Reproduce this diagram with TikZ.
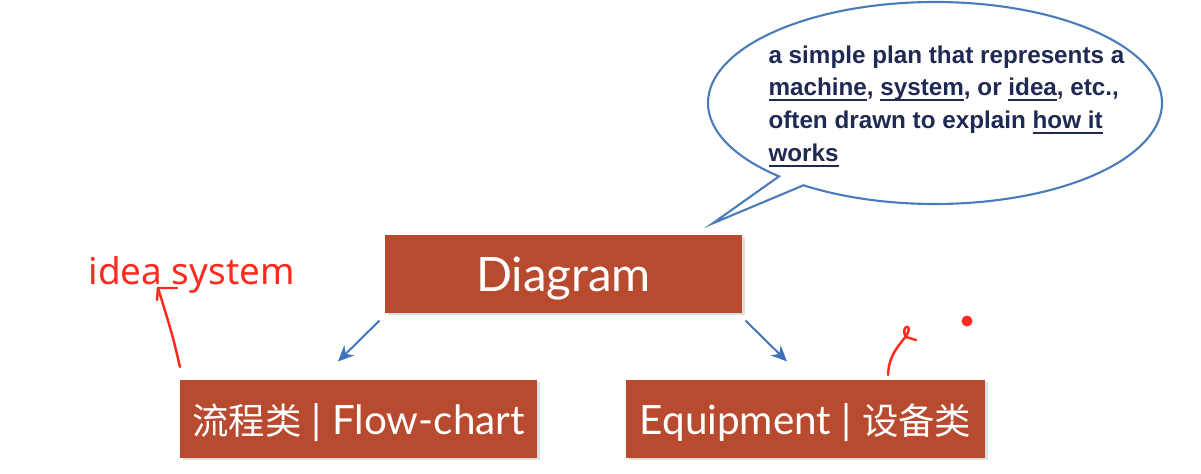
\documentclass[tikz,border=0pt]{standalone}
\usepackage{fontspec}
\usetikzlibrary{positioning, arrows.meta, shapes.callouts, shadows}
\setmainfont{Lato}
\newfontfamily\cjk{Noto Sans CJK SC}[Scale=0.9]
\newfontfamily\notefont{Liberation Sans}
\newfontfamily\penfont{Noto Sans}
\newsavebox{\undlbox}
\newcommand{\undl}[1]{\sbox{\undlbox}{#1}\rlap{\rule[-2.8pt]{\wd\undlbox}{0.8pt}}\usebox{\undlbox}}
\definecolor{boxrust}{HTML}{B84B2F}
\definecolor{linkblue}{HTML}{3E72BA}
\definecolor{bubbleblue}{HTML}{4A7BBB}
\definecolor{textnavy}{HTML}{1F2A52}
\definecolor{inkred}{HTML}{FF2A1E}

\begin{document}
\begin{tikzpicture}[auto, on grid, semithick,
    box/.style={rectangle, fill=boxrust, text=white, minimum width=7.14cm, minimum height=1.56cm,
      inner sep=0pt, text depth=0pt, font=\fontsize{23}{28}\selectfont,
      drop shadow={shadow xshift=0.05cm, shadow yshift=-0.05cm, opacity=0.25}},
    link/.style={linkblue, line width=1.1pt, -{Stealth[length=9pt, width=8pt]}},
    redpen/.style={inkred, line width=1.4pt, line cap=round, line join=round}]
      \useasboundingbox (0,0) rectangle (24.02,-9.48);

      \node[box, font=\fontsize{27}{32}\selectfont] (diagram) at (11.27,-5.48) {Diagram};
      \node[box, below left= 2.9cm and 4.1cm of diagram] (flow) {{\cjk 流程类} | Flow-chart};
      \node[box, minimum width=7.18cm, below right= 2.9cm and 4.84cm of diagram] (equip) {Equipment | {\cjk 设备类}};

      \draw[link] ([shift={(-0.1,-0.14)}]diagram.south west) -- ([shift={(-0.41,0.36)}]flow.north);
      \draw[link] ([shift={(0.06,-0.14)}]diagram.south east) -- ([shift={(-0.37,0.36)}]equip.north);

      \node[ellipse callout, draw=bubbleblue, line width=1.2pt, fill=white,
        minimum width=9.08cm, minimum height=4.04cm, inner sep=0pt, callout pointer arc=8,
        callout absolute pointer={([shift={(-0.6,0.22)}]diagram.north east)},
        above right= 3.42cm and 7.43cm of diagram] (bubble) {};
      \node[anchor=north west, align=left, inner sep=0pt, text=textnavy,
        font=\notefont\bfseries\fontsize{13.8}{18.7}\selectfont]
        (defn) at ([shift={(-3.34,1.16)}]bubble.center)
        {a simple plan that represents a\\
         \undl{machine}, \undl{system}, or \undl{idea}, etc.,\\
         often drawn to explain \undl{how it}\\
         \undl{works}};

      % hand notes
      \node[anchor=base west, inner sep=0pt, text=inkred, font=\penfont\fontsize{21}{25}\selectfont]
        (idea) at (1.76,-5.7) {idea system};
      \coordinate (redtip) at ([shift={(1.4,-0.06)}]idea.base west);
      \coordinate (redtail) at (3.6,-7.34);
      \draw[redpen] (redtail) .. controls (3.45,-6.7) .. (redtip);
      \draw[redpen] ([shift={(-0.02,-0.24)}]redtip) -- (redtip) -- ++(0.38,0);
      \draw[redpen] (17.76,-7.5) .. controls (17.78,-7.1) and (17.95,-6.95) .. (18.12,-6.72)
        .. controls (18.3,-6.45) and (17.98,-6.5) .. (18.12,-6.74) -- (18.32,-6.8);
      \fill[inkred] (19.34,-6.42) circle (0.11);
    \end{tikzpicture}
\end{document}
